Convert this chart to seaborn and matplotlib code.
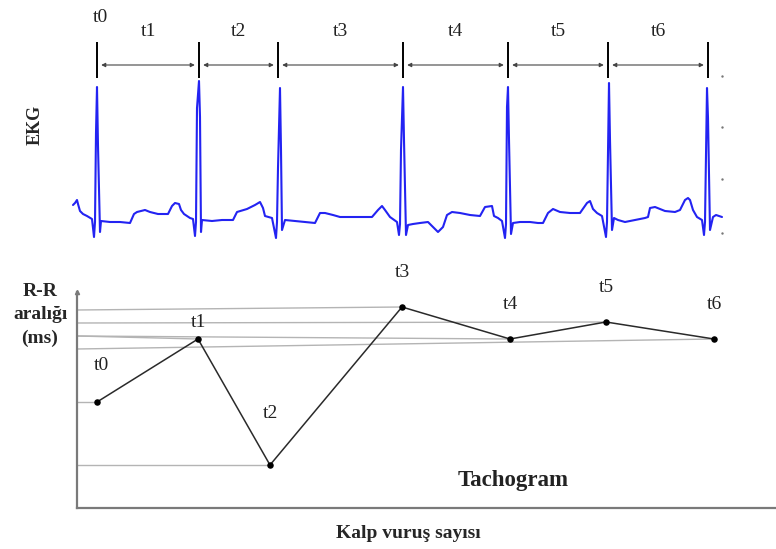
import seaborn as sns
import matplotlib.pyplot as plt
import pandas as pd

# EKG izi: (zaman ms, genlik mV) - resimden okunan noktalar
ekg_points = [
    (-240, 0.13), (-220, 0.15), (-200, 0.18), (-190, 0.14), (-170, 0.07), (-140, 0.04), (-100, 0.02), (-50, -0.01),
    (-30, -0.19), (-20, -0.04), (-10, 0.85), (0, 1.31), (10, 0.72), (30, -0.14), (40, -0.03),
    (130, -0.04), (230, -0.04), (330, -0.05), (370, 0.04), (400, 0.06), (480, 0.08), (530, 0.06), (610, 0.04),
    (710, 0.04), (750, 0.12), (780, 0.15), (820, 0.14), (840, 0.08), (870, 0.04), (930, 0.00), (960, -0.01),
    (980, -0.18), (990, -0.04), (1000, 1.10), (1020, 1.37), (1030, 1.01), (1040, -0.14), (1050, -0.02),
    (1150, -0.03), (1250, -0.02), (1360, -0.02), (1400, 0.06), (1500, 0.09), (1580, 0.13), (1630, 0.16),
    (1660, 0.10), (1680, 0.02), (1750, 0.00),
    (1790, -0.20), (1800, -0.04), (1810, 0.50), (1830, 1.30), (1840, 0.68), (1850, -0.12), (1880, -0.02),
    (1980, -0.03), (2080, -0.04), (2180, -0.05), (2230, 0.05), (2280, 0.05), (2360, 0.03), (2430, 0.01),
    (2530, 0.01), (2630, 0.01), (2750, 0.01), (2810, 0.08), (2850, 0.12), (2880, 0.08), (2930, 0.01), (3000, -0.04),
    (3020, -0.17), (3030, -0.06), (3040, 0.68), (3060, 1.31), (3070, 0.78), (3090, -0.17), (3110, -0.07),
    (3160, -0.06), (3230, -0.05), (3310, -0.04), (3360, -0.09), (3410, -0.14), (3460, -0.09), (3500, 0.03),
    (3550, 0.06), (3630, 0.05), (3730, 0.03), (3830, 0.02), (3880, 0.11), (3950, 0.12), (3970, 0.02),
    (4010, 0.00), (4050, -0.03),
    (4080, -0.20), (4090, -0.06), (4100, 1.11), (4110, 1.31), (4120, 0.78), (4140, -0.16), (4160, -0.05),
    (4230, -0.04), (4330, -0.04), (4410, -0.05), (4460, -0.05), (4510, 0.05), (4560, 0.09), (4630, 0.06),
    (4730, 0.05), (4830, 0.05), (4900, 0.15), (4930, 0.17), (4960, 0.09), (5000, 0.05), (5050, 0.02),
    (5090, -0.19), (5100, -0.04), (5110, 0.68), (5120, 1.35), (5130, 0.78), (5150, -0.12), (5170, 0.00),
    (5210, -0.02), (5280, -0.04), (5380, -0.02), (5480, 0.00), (5510, 0.01), (5530, 0.10), (5580, 0.11),
    (5680, 0.07), (5780, 0.06), (5830, 0.08), (5880, 0.18), (5910, 0.20), (5930, 0.18), (5960, 0.08),
    (6000, 0.01), (6050, -0.02),
    (6070, -0.17), (6080, -0.04), (6090, 0.63), (6100, 1.30), (6110, 1.00), (6130, -0.12), (6160, 0.01),
    (6190, 0.03), (6250, 0.01),
]
ekg_ms = [p[0] for p in ekg_points]
ekg_mv = [p[1] for p in ekg_points]

# R tepe zamanlari ve aralik etiketleri
r_peaks_ms = [0, 1020, 1810, 3060, 4110, 5110, 6110]
etiketler = ['t0', 't1', 't2', 't3', 't4', 't5', 't6']
olcek_mv = [1.42, 0.91, 0.39, -0.15]

# Tachogram
tacho_ms = [0, 1010, 1730, 3050, 4130, 5090, 6170]
tacho_rr = [718, 907, 529, 1003, 907, 958, 907]
kilavuz_rr = [718, 916, 529, 994, 916, 955, 877]

sns.set_style('white')
plt.rcParams['font.family'] = ['Liberation Serif', 'DejaVu Serif']

W, H = 776, 549
fig = plt.figure(figsize=(W / 100, H / 100), dpi=100)

# ---- EKG ----
ax = fig.add_axes([0, 1 - 250 / H, 1, 250 / H])
ax.set_xlim(-970, 6790)
ax.set_ylim(-0.32, 2.18)
ax.axis('off')

df_ekg = pd.DataFrame({'ms': ekg_ms, 'mV': ekg_mv})
sns.lineplot(data=df_ekg, x='ms', y='mV', ax=ax, color='#2323f2', linewidth=1.5,
             estimator=None, sort=False)
sns.scatterplot(x=[6250] * len(olcek_mv), y=olcek_mv, ax=ax, s=3, color='#777777', linewidth=0)

ax.vlines(r_peaks_ms, 1.40, 1.76, color='black', linewidth=1.4)
for a, b, lab in zip(r_peaks_ms[:-1], r_peaks_ms[1:], etiketler[1:]):
    ax.annotate('', xy=(b, 1.53), xytext=(a, 1.53),
                arrowprops=dict(arrowstyle='<|-|>', color='#444444', lw=0.8,
                                mutation_scale=6, shrinkA=3, shrinkB=3))
    ax.text((a + b) / 2, 1.86, lab, ha='center', va='center', fontsize=14, color='#222222')
ax.text(r_peaks_ms[0] + 30, 2.01, etiketler[0], ha='center', va='center', fontsize=14, color='#222222')

fig.text(35 / W, 1 - 125 / H, 'EKG', rotation=90, ha='center', va='center',
         fontsize=13, fontweight='bold')

# ---- Tachogram ----
ax2 = fig.add_axes([77 / W, 1 - 508 / H, 1 - 77 / W, 258 / H])
ax2.set_xlim(-200, 6790)
ax2.set_ylim(400, 1174)
ax2.set_xticks([])
ax2.set_yticks([])
for s in ['top', 'right']:
    ax2.spines[s].set_visible(False)
for s in ['left', 'bottom']:
    ax2.spines[s].set_color('#7a7a7a')
    ax2.spines[s].set_linewidth(1.6)
ax2.spines['left'].set_bounds(400, 1048)
ax2.plot([-200], [1048], marker='^', markersize=3, color='#7a7a7a', clip_on=False)

for x, rr, g in zip(tacho_ms, tacho_rr, kilavuz_rr):
    ax2.plot([-200, x], [g, rr], color='#b4b4b4', linewidth=1.0, zorder=1)

sns.lineplot(x=tacho_ms, y=tacho_rr, ax=ax2, color='#2a2a2a', linewidth=1.1,
             estimator=None, sort=False, zorder=2)
sns.scatterplot(x=tacho_ms, y=tacho_rr, ax=ax2, s=22, color='black', linewidth=0, zorder=3)

ofset = {'t0': (3, 26), 't1': (0, 12), 't2': (0, 37)}
for x, rr, lab in zip(tacho_ms, tacho_rr, etiketler):
    dx, dy = ofset.get(lab, (0, 25))
    ax2.annotate(lab, (x, rr), xytext=(dx, dy), textcoords='offset points',
                 ha='center', va='center', fontsize=14, color='#222222')

ax2.text(0.624, 0.105, 'Tachogram', transform=ax2.transAxes, ha='center', va='center',
         fontsize=16.5, fontweight='bold', color='#222222')
ax2.set_xlabel('')
ax2.set_ylabel('')

fig.text(40 / W, 1 - 315 / H, 'R-R\naralığı\n(ms)', ha='center', va='center',
         fontsize=14, fontweight='bold', linespacing=1.45)
fig.text(408 / W, 1 - 533 / H, 'Kalp vuruş sayısı', ha='center', va='center',
         fontsize=14, fontweight='bold')

fig.savefig('out.png', dpi=100, facecolor='white')
